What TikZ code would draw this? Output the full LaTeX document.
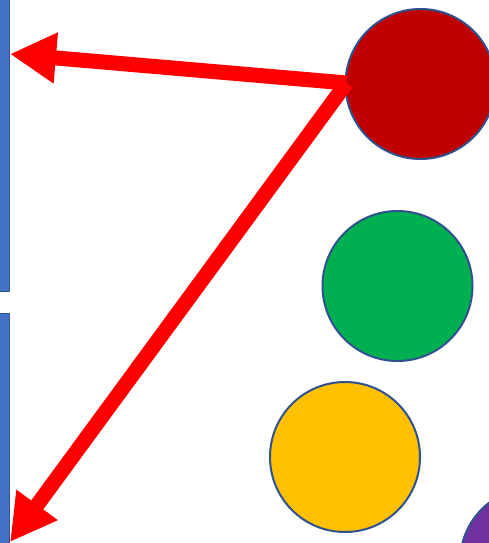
\documentclass[tikz,border=0pt]{standalone}
\usetikzlibrary{arrows.meta}
\definecolor{barfill}{HTML}{4472C4}
\definecolor{edgeblue}{HTML}{2F528F}
\definecolor{cred}{HTML}{C00000}
\definecolor{cgreen}{HTML}{00B050}
\definecolor{cyellow}{HTML}{FFC000}
\definecolor{cpurple}{HTML}{7030A0}
\definecolor{arrred}{HTML}{FF0000}
\tikzset{
  ball/.style={circle, draw=edgeblue, line width=2pt, minimum size=150pt, inner sep=0pt},
  bar/.style={draw=edgeblue, fill=barfill, line width=1.5pt},
  bigarrow/.style={draw=arrred, line width=15pt, -{Triangle[length=46pt,width=48pt]}}
}
\begin{document}
\begin{tikzpicture}[x=1pt,y=-1pt]
\clip (0,0) rectangle (489,543);
\fill[white] (0,0) rectangle (489,543);
\draw[bar] (-5,-20) rectangle (9.5,291.5);
\draw[bar] (-5,313.5) rectangle (9.5,560);
\coordinate (bar1) at (10,54);
\coordinate (bar2) at (10,542);
\node[ball, fill=cred] (red) at (420.5,84) {};
\node[ball, fill=cgreen] (green) at (397.5,286) {};
\node[ball, fill=cyellow] (yellow) at (345,457) {};
\node[ball, fill=cpurple] (purple) at (535,562) {};
\coordinate (s) at ([xshift=2pt,yshift=1pt]red.west);
\draw[bigarrow] (s) -- (bar1);
\draw[bigarrow] (s) -- (bar2);
\end{tikzpicture}
\end{document}
